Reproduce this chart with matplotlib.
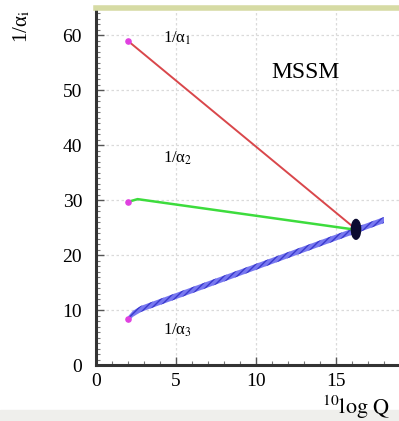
import numpy as np
import matplotlib.pyplot as plt
from matplotlib.patches import Ellipse, Rectangle
from matplotlib.ticker import MultipleLocator

plt.rcParams['font.family'] = ['Liberation Serif', 'DejaVu Serif']
plt.rcParams['mathtext.fontset'] = 'stix'

# running inverse couplings vs 10log Q
x_a1 = [2.0, 16.3]
y_a1 = [59.0, 24.6]
x_a2 = [2.0, 2.6, 16.3]
y_a2 = [29.7, 30.2, 24.6]
x_a3 = [2.0, 2.3, 2.8, 18.0]
y_a3 = [8.3, 9.3, 10.2, 26.4]
start_x = [2.0, 2.0, 2.0]
start_y = [59.0, 29.7, 8.3]
unif_x, unif_y = 16.25, 24.7

x_ticks = [0, 5, 10, 15]
y_ticks = [0, 10, 20, 30, 40, 50, 60]

fig = plt.figure(figsize=(3.99, 4.21), dpi=100)
ax = fig.add_axes([96 / 399, 56 / 421, 304 / 399, 357 / 421])
ax.set_xlim(0, 19)
ax.set_ylim(0, 65)

# faint grey strip at the bottom of the page
fig.patches.append(Rectangle((0, 0), 1, 0.025, transform=fig.transFigure,
                             color='#efefec', zorder=-5))

ax.grid(True, which='major', color='#dadada', linestyle=(0, (2, 2)), lw=0.9)
ax.set_axisbelow(True)

# alpha_3: hatched blue band
xs = np.array(x_a3)
ys = np.array(y_a3)
ax.fill_between(xs, ys - 0.55, ys + 0.55, facecolor='#7878f0',
                edgecolor='#3a3acc', hatch='/////', lw=0, zorder=3)
ax.plot(x_a1, y_a1, color='#d9474b', lw=1.4, zorder=4)
ax.plot(x_a2, y_a2, color='#3ddc3d', lw=1.8, zorder=4)
ax.scatter(start_x, start_y, s=14, color='#e040e0', zorder=5)
ax.add_patch(Ellipse((unif_x, unif_y), 0.58, 3.6, color='#0a0a30', zorder=6))

ax.text(4.2, 59.5, '1/α$_1$', fontsize=12, ha='left', va='center')
ax.text(4.2, 37.6, '1/α$_2$', fontsize=12, ha='left', va='center')
ax.text(4.2, 6.3, '1/α$_3$', fontsize=12, ha='left', va='center')
ax.text(13.1, 53.3, 'MSSM', fontsize=17, ha='center', va='center')

ax.set_xticks(x_ticks)
ax.set_yticks(y_ticks)
ax.xaxis.set_minor_locator(MultipleLocator(1))
ax.yaxis.set_minor_locator(MultipleLocator(1))
ax.tick_params(which='major', direction='in', length=6, width=1.0,
               color='#555555', labelsize=14, pad=6)
ax.tick_params(which='minor', direction='in', length=3, width=0.8,
               color='#777777')
ax.tick_params(axis='y', pad=10)

for side in ['left', 'bottom']:
    ax.spines[side].set_linewidth(2.2)
    ax.spines[side].set_color('#333333')
ax.spines['right'].set_visible(False)
ax.spines['top'].set_color('#d6dba4')
ax.spines['top'].set_linewidth(4)

fig.text(22 / 399, 1 - 26 / 421, '1/α$_\\mathrm{i}$', rotation=90,
         fontsize=15, ha='center', va='center')
fig.text(322 / 399, 1 - 414 / 421, r'$^{10}\mathrm{log\ Q}$',
         fontsize=16, ha='left', va='baseline')

fig.savefig('out.png', dpi=100)
